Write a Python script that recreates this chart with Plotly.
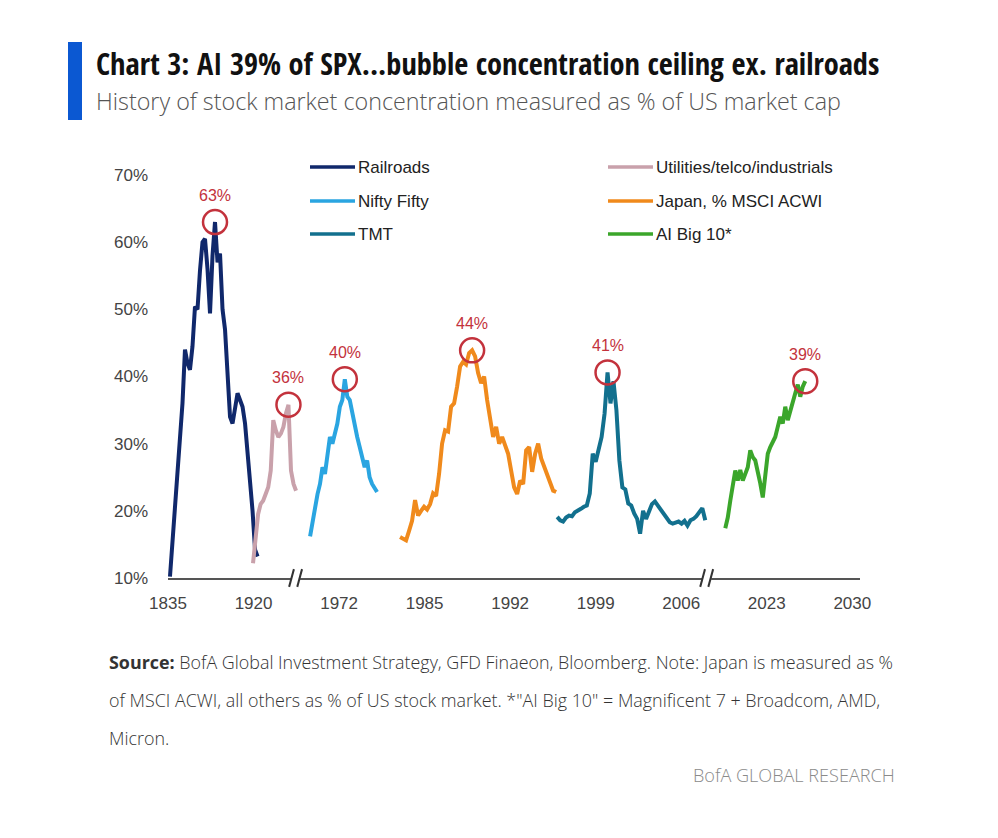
import numpy as np
import plotly.graph_objects as go

# x axis is a broken period axis: one unit per tick label
tick_labels = ["1835", "1920", "1972", "1985", "1992", "1999", "2006", "2023", "2030"]

series_names = ["Railroads", "Utilities/telco/industrials", "Nifty Fifty",
                "Japan, % MSCI ACWI", "TMT", "AI Big 10*"]
series_colors = ["#10286b", "#c9a1ab", "#2aa5e1", "#f08a1c", "#12708e", "#3ba62b"]

# where each episode sits on the period axis (start, end)
series_spans = [(0.023, 1.047), (0.994, 1.497), (1.661, 2.444),
                (2.713, 4.538), (4.550, 6.281), (6.515, 7.450)]

railroads = [10.2, 15.5, 19, 25, 30, 36, 44, 42, 41, 44.5, 50.4, 50, 55.8, 60, 60.5, 56,
             49.4, 58, 63, 57, 58.3, 50, 47, 41, 34, 33, 35, 37.5, 36.5, 35.5, 33, 29,
             24, 20, 14.2, 13.2]
utilities = [12.2, 16, 19.5, 21, 21.5, 22.5, 23.5, 26, 33.5, 32, 31, 31.5, 32.5, 34.5,
             35.8, 26, 24, 23]
nifty_fifty = [16.2, 18.5, 20.5, 22.5, 24, 26.5, 25.5, 28, 31, 30, 31.5, 33, 35.5, 36.5,
               39.6, 37, 36.5, 34.5, 33, 31, 29.5, 28, 26.5, 27.5, 25, 24, 23.5, 22.8]
japan = [16.1, 15.8, 15.6, 17, 18.5, 21.6, 19.3, 20, 20.6, 20.2, 21, 22.6, 22.2, 25.5,
         30, 32, 31.8, 35.5, 36, 38.5, 41.5, 42.2, 41.8, 43.5, 43.9, 43, 40.5, 39, 40,
         36.5, 33.5, 31, 32.5, 30, 31, 29.8, 28.5, 26, 23.5, 22.5, 24.5, 24, 29, 29.5,
         25.8, 28.5, 30, 27.8, 26.6, 25.6, 24.3, 23, 22.8]
tmt = [19.1, 18.6, 18.4, 19, 19.3, 19.2, 19.8, 20, 20.3, 20.6, 20.8, 22.6, 28.5, 27.3,
       29.5, 31, 34.5, 40.6, 36, 39.3, 35, 27.5, 23.5, 23.2, 21.1, 20.8, 19.6, 18.8, 16.6,
       20, 18.8, 20, 21, 21.4, 20.8, 20.2, 19.4, 18.8, 18.3, 18.1, 18.2, 18.4, 18.1, 18.5,
       17.8, 18.6, 18.8, 19.2, 19.8, 20.4, 18.6]
ai_big_10 = [17.4, 19, 21.5, 24, 26, 24.5, 26.1, 24.5, 25.5, 26.5, 29, 28, 27.5, 26, 24.1,
             22, 25, 28.5, 29.5, 30.3, 31, 32.5, 34, 33, 35.5, 33.5, 35, 36.5, 37.5, 38.8,
             37, 38.5, 39.3]

series_values = [railroads, utilities, nifty_fifty, japan, tmt, ai_big_10]
peak_labels = ["63%", "36%", "40%", "44%", "41%", "39%"]

y_ticks = [10, 20, 30, 40, 50, 60, 70]
axis_breaks = [1.494, 6.30]

# page has an 8px body margin, so the figure is drawn 8px in from the corner
OFF = 8
W, H = 998, 838
L, R, T, B = 168, 860, 175, 578


def px(x):
    return (x - L) / (R - L)


def py(y):
    return (B - y) / (B - T)


COND = "Open Sans Condensed, Liberation Sans Narrow, DejaVu Sans Condensed, Open Sans, sans-serif"
LIGHT = "Open Sans, sans-serif"
NARROW = "Liberation Sans Narrow, Arial Narrow, Liberation Sans, Arial, sans-serif"
RED = "#c3323c"

fig = go.Figure()

for name, color, (x0, x1), vals in zip(series_names, series_colors, series_spans, series_values):
    xs = np.linspace(x0, x1, len(vals))
    fig.add_trace(go.Scatter(x=xs, y=vals, mode="lines", name=name,
                             line=dict(color=color, width=4), cliponaxis=False,
                             showlegend=False))

# red rings on each peak
for (x0, x1), vals, lab in zip(series_spans, series_values, peak_labels):
    xs = np.linspace(x0, x1, len(vals))
    i = int(np.argmax(vals))
    fig.add_trace(go.Scatter(x=[xs[i]], y=[vals[i]], mode="markers", showlegend=False,
                             marker=dict(symbol="circle-open", size=24, color=RED,
                                         line=dict(width=2.5, color=RED)),
                             cliponaxis=False))
    fig.add_annotation(x=xs[i], y=vals[i], text=lab, showarrow=False, yshift=27,
                       font=dict(family=NARROW, size=16, color=RED))

# hand-made legend (two columns, three rows)
legend_cols = [310, 608]
legend_rows = [167, 201, 234]
for k, (name, color) in enumerate(zip(series_names, series_colors)):
    cx = legend_cols[k % 2]
    cy = legend_rows[k // 2]
    fig.add_shape(type="line", xref="paper", yref="paper",
                  x0=px(cx), x1=px(cx + 45), y0=py(cy), y1=py(cy),
                  line=dict(color=color, width=3.5))
    fig.add_annotation(xref="paper", yref="paper", x=px(cx + 46), y=py(cy), text=name,
                       showarrow=False, xanchor="left", yanchor="middle",
                       font=dict(family=NARROW, size=17, color="#222"))

# axis breaks "//"
for xb in axis_breaks:
    fig.add_shape(type="rect", xref="x", yref="paper", x0=xb - 0.05, x1=xb + 0.05,
                  y0=-0.01, y1=0.01, fillcolor="white", line=dict(width=0), layer="above")
    for off in (-0.05, 0.045):
        fig.add_shape(type="line", xref="x", yref="paper",
                      x0=xb + off - 0.028, x1=xb + off + 0.028, y0=-0.022, y1=0.022,
                      line=dict(color="#333", width=2), layer="above")

# header
fig.add_shape(type="rect", xref="paper", yref="paper", x0=px(68), x1=px(82),
              y0=py(120), y1=py(42), fillcolor="#0b58d2", line=dict(width=0))
fig.add_annotation(xref="paper", yref="paper", x=px(94), y=py(63), xanchor="left",
                   yanchor="middle", showarrow=False,
                   text="<b>Chart 3: AI 39% of SPX...bubble concentration ceiling ex. railroads</b>",
                   font=dict(family=COND, size=30.4, color="#111"))
fig.add_annotation(xref="paper", yref="paper", x=px(94), y=py(101), xanchor="left",
                   yanchor="middle", showarrow=False,
                   text="History of stock market concentration measured as % of US market cap",
                   font=dict(family=LIGHT, size=23.3, color="#555", weight=300))

# footnotes
notes = [
    "<b>Source:</b> BofA Global Investment Strategy, GFD Finaeon, Bloomberg. Note: Japan is measured as %",
    "of MSCI ACWI, all others as % of US stock market. *\"AI Big 10\" = Magnificent 7 + Broadcom, AMD,",
    "Micron.",
]
for j, line in enumerate(notes):
    fig.add_annotation(xref="paper", yref="paper", x=px(107), y=py(662 + 38 * j),
                       xanchor="left", yanchor="middle", showarrow=False, text=line,
                       font=dict(family=LIGHT, size=17.9, color="#333", weight=300))
fig.add_annotation(xref="paper", yref="paper", x=px(897), y=py(775), xanchor="right",
                   yanchor="middle", showarrow=False, text="BofA GLOBAL RESEARCH",
                   font=dict(family=LIGHT, size=18.1, color="#8a8a8a", weight=300))

fig.update_xaxes(range=[0, 8.09], tickvals=list(range(len(tick_labels))),
                 ticktext=tick_labels, showgrid=False, zeroline=False,
                 showline=True, linecolor="#555", linewidth=1.5, ticks="",
                 ticklabelstandoff=9,
                 tickfont=dict(family=NARROW, size=17, color="#444"))
fig.update_yaxes(range=[10, 70], tickvals=y_ticks,
                 ticktext=[f"{v}%" for v in y_ticks], showgrid=False, zeroline=False,
                 showline=False, ticks="", ticklabelstandoff=19,
                 tickfont=dict(family=NARROW, size=17, color="#444"))

fig.update_layout(width=W - OFF, height=H - OFF,
                  margin=dict(l=L - OFF, r=W - R, t=T - OFF, b=H - B),
                  plot_bgcolor="white", paper_bgcolor="white", showlegend=False)

fig.write_html("out.html")
